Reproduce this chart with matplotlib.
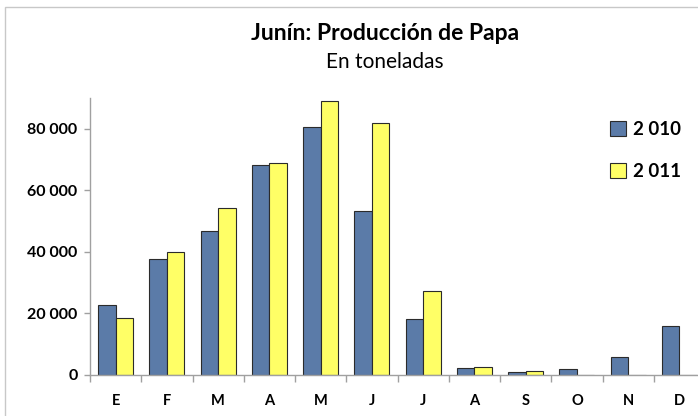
import matplotlib
matplotlib.use("Agg")
import matplotlib.pyplot as plt
import numpy as np
from matplotlib.patches import Rectangle

months = ["E", "F", "M", "A", "M", "J", "J", "A", "S", "O", "N", "D"]
prod_2010 = [22800, 37700, 46700, 68300, 80500, 53300, 18100, 2400, 900, 2100, 5950, 15900]
prod_2011 = [18500, 40000, 54200, 68800, 89100, 81800, 27400, 2600, 1400, 0, 0, 0]
series_labels = ["2 010", "2 011"]
yticks = [0, 20000, 40000, 60000, 80000]
ytick_labels = ["0", "20 000", "40 000", "60 000", "80 000"]

plt.rcParams['font.family'] = ['Lato', 'DejaVu Sans']

fig = plt.figure(figsize=(6.98, 4.16), dpi=100)
fig.patch.set_facecolor("white")
# light frame around chart
fig.add_artist(Rectangle((5/698, -0.01), 1.1, (416-7)/416 + 0.01, transform=fig.transFigure,
                         fill=False, edgecolor="#C8C8C8", linewidth=1.0))

ax = fig.add_axes([90/698, 41/416, 615/698, 277/416])
x = np.arange(len(months))
w = 0.34
ax.bar(x - w/2, prod_2010, width=w, color="#5B7BA8", edgecolor="#2B2B2B", linewidth=0.8, label=series_labels[0])
ax.bar(x + w/2, prod_2011, width=w, color="#FFFF66", edgecolor="#2B2B2B", linewidth=0.8, label=series_labels[1])

ax.set_xlim(-0.5, len(months) - 0.5)
ax.set_ylim(0, 90000)
ax.set_yticks(yticks)
ax.set_yticklabels(ytick_labels, fontsize=11.5, fontweight="bold")
ax.set_xticks(x)
ax.set_xticklabels(months, fontsize=10.5, fontweight="bold")
ax.set_xticks(np.arange(-0.5, len(months)), minor=True)
ax.tick_params(axis="x", which="major", length=0, pad=14)
ax.tick_params(axis="x", which="minor", length=5, color="#A0A0A0", width=1)
ax.tick_params(axis="y", length=4, color="#A0A0A0", width=1, pad=5)

for s in ["top", "right"]:
    ax.spines[s].set_visible(False)
for s in ["left", "bottom"]:
    ax.spines[s].set_color("#A0A0A0")
    ax.spines[s].set_linewidth(1.0)

leg = ax.legend(loc="upper left", bbox_to_anchor=(601/698, 1 - 112/416), bbox_transform=fig.transFigure,
                frameon=False, fontsize=13.5, handlelength=0.85, handleheight=0.85,
                labelspacing=1.3, handletextpad=0.35, borderpad=0)
for t in leg.get_texts():
    t.set_fontweight("bold")

fig.text(385/698, 1 - 33/416, "Junín: Producción de Papa", ha="center", va="center",
         fontsize=16.5, fontweight="bold")
fig.text(385/698, 1 - 62/416, "En toneladas", ha="center", va="center", fontsize=15)

fig.savefig("out.png", dpi=100)
